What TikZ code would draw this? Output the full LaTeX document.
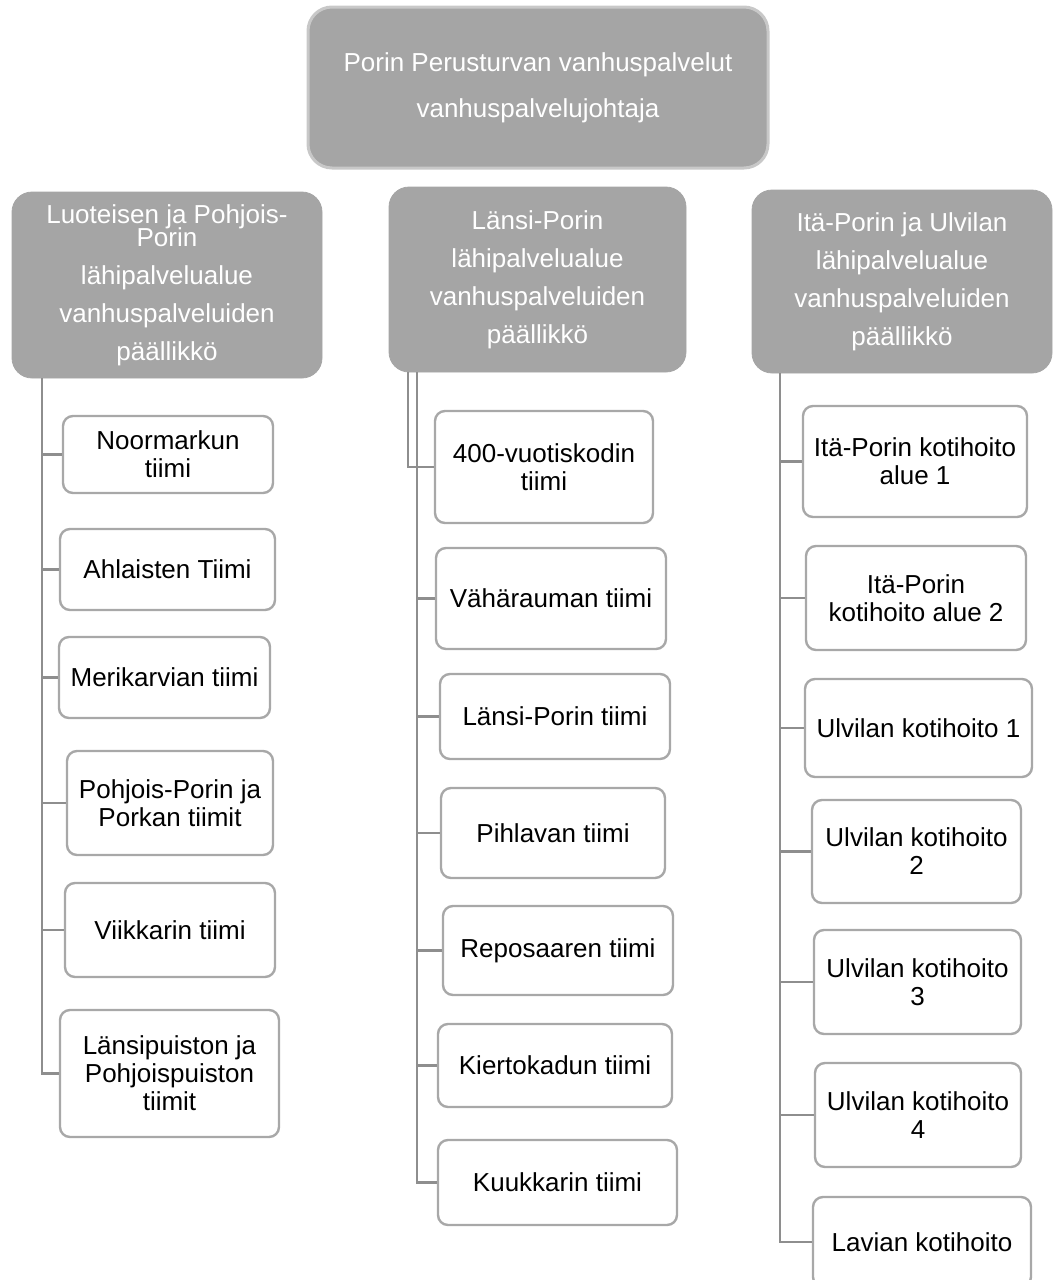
\documentclass[tikz,border=0pt]{standalone}
\usepackage{fontspec}
\setmainfont{Liberation Sans}
\definecolor{headgray}{HTML}{A5A5A5}
\definecolor{rimgray}{HTML}{C8C8C8}
\definecolor{boxrim}{HTML}{A8A8A8}
\definecolor{linkgray}{HTML}{8E8E8E}

\begin{document}
\begin{tikzpicture}[x=0.5pt,y=-0.5pt,
    head/.style={draw=headgray, fill=headgray, rounded corners=10pt, text=white,
      align=center, inner sep=0pt, font=\fontsize{13}{19}\selectfont},
    team/.style={draw=boxrim, line width=1.2pt, fill=white, rounded corners=5pt,
      align=center, inner sep=0pt, font=\fontsize{13}{14}\selectfont},
    link/.style={draw=linkgray, line width=1.25pt}]
  \useasboundingbox (0,0) rectangle (1053,1280);

  % top and the three areas
  \node[head, draw=rimgray, line width=1.5pt, rounded corners=12pt,
    minimum width=230pt, minimum height=80.5pt] (top) at (538,87.5)
    {Porin Perusturvan vanhuspalvelut\\[4pt]vanhuspalvelujohtaja};
  \node[head, minimum width=155pt, minimum height=93pt] (lhead) at (167,285)
    {Luoteisen ja Pohjois-\\[-7.5pt]Porin\\lähipalvelualue\\vanhuspalveluiden\\päällikkö};
  \node[head, minimum width=148.5pt, minimum height=92.5pt] (mhead) at (537.5,279.5)
    {Länsi-Porin\\lähipalvelualue\\vanhuspalveluiden\\päällikkö};
  \node[head, minimum width=150pt, minimum height=91.5pt] (rhead) at (902,281.5)
    {Itä-Porin ja Ulvilan\\lähipalvelualue\\vanhuspalveluiden\\päällikkö};

  % left teams
  \node[team, minimum width=105pt, minimum height=38.5pt] (l1) at (168,454.5) {Noormarkun\\tiimi};
  \node[team, minimum width=107.5pt, minimum height=40.5pt] (l2) at (167.5,569.5) {Ahlaisten Tiimi};
  \node[team, minimum width=105.5pt, minimum height=40.5pt] (l3) at (164.5,677.5) {Merikarvian tiimi};
  \node[team, minimum width=103pt, minimum height=52pt] (l4) at (170,803) {Pohjois-Porin ja\\Porkan tiimit};
  \node[team, minimum width=105pt, minimum height=47pt] (l5) at (170,930) {Viikkarin tiimi};
  \node[team, minimum width=109.5pt, minimum height=63.5pt] (l6) at (169.5,1073.5) {Länsipuiston ja\\Pohjoispuiston\\tiimit};

  % middle teams
  \node[team, minimum width=109pt, minimum height=56pt] (m1) at (544,467) {400-vuotiskodin\\tiimi};
  \node[team, minimum width=115pt, minimum height=50.5pt] (m2) at (551,598.5) {Vähärauman tiimi};
  \node[team, minimum width=115pt, minimum height=42.5pt] (m3) at (555,716.5) {Länsi-Porin tiimi};
  \node[team, minimum width=112pt, minimum height=45pt] (m4) at (553,833) {Pihlavan tiimi};
  \node[team, minimum width=115pt, minimum height=44.5pt] (m5) at (558,950.5) {Reposaaren tiimi};
  \node[team, minimum width=117pt, minimum height=41.5pt] (m6) at (555,1065.5) {Kiertokadun tiimi};
  \node[team, minimum width=119.5pt, minimum height=42.5pt] (m7) at (557.5,1182.5) {Kuukkarin tiimi};

  % right teams
  \node[team, minimum width=112pt, minimum height=55.5pt] (r1) at (915,461.5) {Itä-Porin kotihoito\\alue 1};
  \node[team, minimum width=110pt, minimum height=52pt] (r2) at (916,598) {Itä-Porin\\kotihoito alue 2};
  \node[team, minimum width=113.5pt, minimum height=49pt] (r3) at (918.5,728) {Ulvilan kotihoito 1};
  \node[team, minimum width=104.5pt, minimum height=51.5pt] (r4) at (916.5,851.5) {Ulvilan kotihoito\\2};
  \node[team, minimum width=103.5pt, minimum height=52pt] (r5) at (917.5,982) {Ulvilan kotihoito\\3};
  \node[team, minimum width=103pt, minimum height=52pt] (r6) at (918,1115) {Ulvilan kotihoito\\4};
  \node[team, minimum width=109pt, minimum height=45pt] (r7) at (922,1242) {Lavian kotihoito};

  % trunks
  \coordinate (ltrunk) at (42,378);
  \coordinate (mtrunk) at (417,372);
  \coordinate (mside) at (408,372);
  \coordinate (rtrunk) at (780,373);
  \draw[link] (ltrunk) |- (l6.west);
  \draw[link] (mtrunk) |- (m7.west);
  \draw[link] (mside) |- (m1.west);
  \draw[link] (rtrunk) |- (r7.west);
  \foreach \t in {l1,l2,l3,l4,l5}
    \draw[link] (ltrunk |- \t.west) -- (\t.west);
  \foreach \t in {m2,m3,m4,m5,m6}
    \draw[link] (mtrunk |- \t.west) -- (\t.west);
  \foreach \t in {r1,r2,r3,r4,r5,r6}
    \draw[link] (rtrunk |- \t.west) -- (\t.west);
\end{tikzpicture}
\end{document}
